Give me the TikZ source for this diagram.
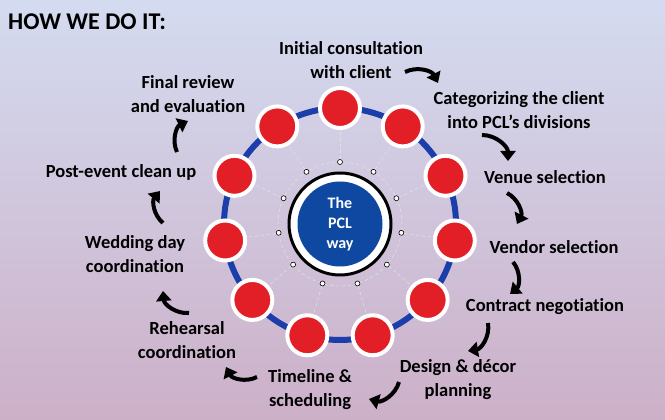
\documentclass[tikz,border=0pt]{standalone}
\usepackage{fontspec}
\setmainfont{Carlito}[Ligatures=NoCommon]
\usetikzlibrary{arrows.meta}
\definecolor{fondoarriba}{RGB}{212,219,240}
\definecolor{fondoabajo}{RGB}{204,176,200}
\definecolor{azulanillo}{RGB}{28,62,170}
\definecolor{azulcentro}{RGB}{14,72,160}
\definecolor{rojo}{RGB}{226,30,38}
\definecolor{gris}{RGB}{225,225,230}
\tikzset{
  etiqueta/.style={font=\bfseries\fontsize{18.5}{24}\selectfont, align=center, text=black, inner sep=0pt},
  flecha/.style={line width=4pt, -{Triangle[length=10pt,width=15pt]}, bend left=45},
  bola/.style={circle, draw=white, line width=4pt, fill=rojo, minimum size=40pt, inner sep=0pt},
  punto/.style={circle, draw=black, fill=white, line width=0.6pt, minimum size=5pt, inner sep=0pt},
  guia/.style={gris, dashed, line width=0.6pt}
}
\begin{document}
\begin{tikzpicture}[x=1pt,y=1pt]
\useasboundingbox (0,0) rectangle (665,420);
\shade[top color=fondoarriba, bottom color=fondoabajo] (0,0) rectangle (665,420);
\coordinate (centro) at (340,196);
% anillo y guias
\draw[azulanillo, line width=6pt] (centro) circle (116);
\draw[guia] (centro) circle (62);
\foreach \i in {0,...,10}{
  \node[punto] (punto\i) at ([shift={(90-\i*360/11:62)}]centro) {};
  \node[bola] (bola\i) at ([shift={(90-\i*360/11:116)}]centro) {};
  \draw[guia] (punto\i) -- (bola\i);
}
\node[circle, fill=white, draw=black, line width=3pt, minimum size=102pt] (anillo) at (centro) {};
\node[circle, fill=azulcentro, minimum size=85pt, inner sep=0pt, text=white, align=center,
  font=\bfseries\fontsize{16}{20}\selectfont] (pcl) at (centro) {The\\PCL\\way};
% titulo
\node[anchor=west, inner sep=0pt, font=\bfseries\fontsize{24}{28}\selectfont] (titulo) at (8,398) {HOW WE DO IT:};
% pasos
\node[etiqueta] (inicial) at (351,360) {Initial consultation\\with client};
\node[etiqueta] (categoria) at (519,310) {Categorizing the client\\into PCL’s divisions};
\node[etiqueta] (lugar) at (545,243) {Venue selection};
\node[etiqueta] (proveedor) at (554,173) {Vendor selection};
\node[etiqueta] (contrato) at (545,113) {Contract negotiation};
\node[etiqueta] (diseno) at (458,40) {Design \& décor\\planning};
\node[etiqueta] (cronograma) at (310,30) {Timeline \&\\scheduling};
\node[etiqueta] (ensayo) at (187,80) {Rehearsal\\coordination};
\node[etiqueta] (boda) at (135,166) {Wedding day\\coordination};
\node[etiqueta] (limpieza) at (121,248) {Post-event clean up};
\node[etiqueta] (revision) at (188,326) {Final review\\and evaluation};
% flechas
\coordinate (f1a) at (405,348); \coordinate (f1b) at (438,337);
\coordinate (f2a) at (482,285); \coordinate (f2b) at (508,259);
\coordinate (f3a) at (507,227); \coordinate (f3b) at (517,196);
\coordinate (f4a) at (513,158); \coordinate (f4b) at (510,126);
\coordinate (f5a) at (488,97);  \coordinate (f5b) at (468,69);
\coordinate (f6a) at (399,38);  \coordinate (f6b) at (369,21);
\coordinate (f7a) at (257,43);  \coordinate (f7b) at (226,53);
\coordinate (f8a) at (189,107); \coordinate (f8b) at (163,129);
\coordinate (f9a) at (163,197); \coordinate (f9b) at (160,229);
\coordinate (f10a) at (177,268); \coordinate (f10b) at (188,299);
\foreach \k in {1,...,10}{
  \draw[flecha] (f\k a) to (f\k b);
}
\end{tikzpicture}
\end{document}
